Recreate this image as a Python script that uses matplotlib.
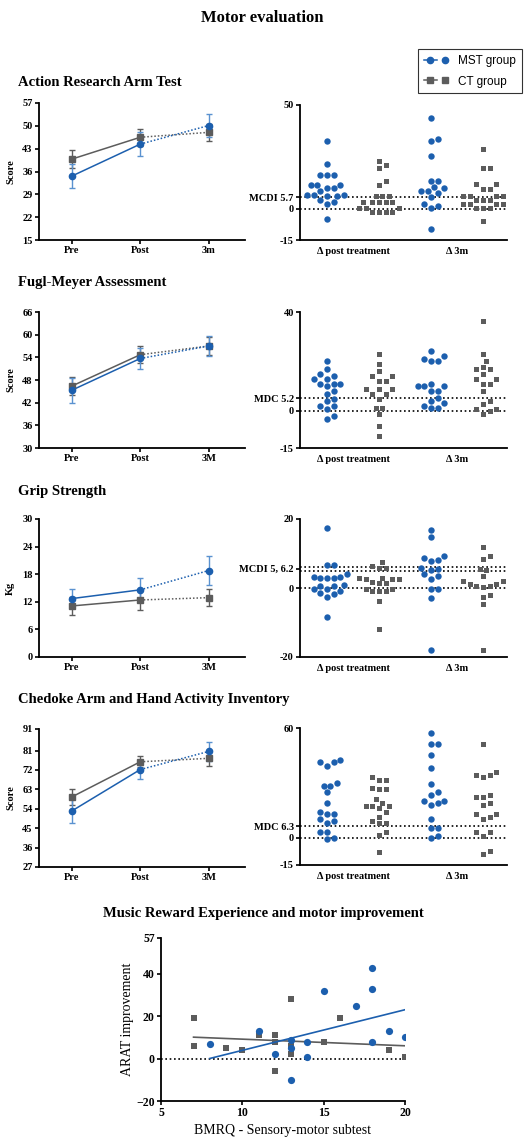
import numpy as np
import matplotlib.pyplot as plt
from matplotlib.lines import Line2D
from matplotlib.legend_handler import HandlerTuple

W, H = 524, 1139
BLUE = '#1c5fae'
BLUE_ERR = '#5a92d0'
GRAY = '#5c5c5c'
DOT = (0, (1, 1.3))

plt.rcParams['font.family'] = ['Liberation Serif', 'DejaVu Serif']
plt.rcParams['axes.linewidth'] = 1.3

# ---- time course (mean, error) ----
times_arat = ['Pre', 'Post', '3m']
times = ['Pre', 'Post', '3M']

arat_mst = [34.6, 44.4, 50.1]
arat_mst_err = [3.6, 3.8, 3.5]
arat_ct = [39.8, 46.5, 48.0]
arat_ct_err = [2.7, 2.6, 2.5]

fm_mst = [45.3, 53.7, 57.0]
fm_mst_err = [3.3, 2.7, 2.7]
fm_ct = [46.4, 54.7, 57.0]
fm_ct_err = [2.4, 2.3, 2.5]

grip_mst = [12.7, 14.6, 18.8]
grip_mst_err = [2.1, 2.6, 3.2]
grip_ct = [11.1, 12.4, 12.9]
grip_ct_err = [2.0, 2.2, 1.9]

cahai_mst = [53.0, 72.2, 80.6]
cahai_mst_err = [5.6, 4.3, 4.4]
cahai_ct = [59.5, 75.8, 77.4]
cahai_ct_err = [3.7, 2.6, 3.6]

# ---- individual change scores ----
change_labels = ['\u0394 post treatment', '\u0394 3m']

arat_post_mst = [32.8, 21.6, 16.3, 16.3, 16.3, 11.5, 10.0, 11.5, 10.0, 11.5, 6.7, 6.7, 6.0, 6.0, 6.7,
                 3.4, 2.4, 4.3, -4.8, 8.5]
arat_post_ct = [23.2, 21.0, 19.9, 13.5, 11.6, 6.2, 6.2, 6.2, 3.4, 3.4, 3.4, 3.4, 3.4,
                0.6, 0.6, 0.6, 0.6, 0.6, -1.4, -1.4, -1.4, -1.4]
arat_3m_mst = [43.9, 32.7, 33.8, 25.6, 13.5, 13.5, 10.6, 9.8, 8.5, 7.8, 8.5, 5.9, 2.4, 1.6, 0.5, -9.6]
arat_3m_ct = [28.8, 19.7, 19.7, 12.0, 12.0, 9.6, 9.6, 6.4, 6.4, 6.4, 6.4, 6.4, 4.3, 4.3, 4.3,
              2.4, 2.4, 2.4, 2.4, 0.6, 0.6, 0.6, -5.8]

fm_post_mst = [20.2, 17.0, 13.0, 14.0, 15.0, 13.0, 11.0, 11.0, 10.1, 11.0, 8.0, 7.0, 4.0, 5.0,
               2.0, 2.0, 0.9, -3.2, -2.0]
fm_post_ct = [23.2, 19.0, 16.1, 14.0, 14.0, 12.1, 12.1, 9.0, 9.0, 9.0, 7.0, 7.0, 5.0, 1.1, 1.1,
              -1.2, -6.0, -10.1]
fm_3m_mst = [24.1, 22.1, 20.1, 20.1, 21.0, 10.1, 10.1, 10.1, 11.0, 8.0, 8.0, 5.1, 4.0, 3.1,
             2.0, 1.1, 1.1]
fm_3m_ct = [36.2, 23.2, 20.1, 17.0, 17.9, 17.0, 15.0, 13.0, 13.0, 11.0, 11.0, 8.0, 4.0, 2.9,
            0.9, 0.0, 0.9, -1.1]

grip_post_mst = [17.4, 6.7, 6.7, 2.8, 3.3, 3.3, 4.0, 2.8, 2.8, 0.9, 0.6, 0.6, -0.4, -0.9, -0.4,
                 -1.8, -2.7, -1.4, -8.4]
grip_post_ct = [7.6, 5.9, 6.4, 5.9, 2.5, 2.5, 3.0, 3.0, 2.5, 1.4, 1.7, 1.4, -0.2, -0.9, -0.9,
                -0.9, -0.2, -3.7, -12.0]
grip_3m_mst = [16.7, 14.8, 8.8, 7.9, 8.2, 9.3, 5.5, 5.2, 5.7, 4.0, 3.5, 2.5, -0.4, -0.4, -2.8, -17.9]
grip_3m_ct = [11.8, 8.5, 9.2, 5.6, 5.2, 3.5, 2.0, 2.0, 2.0, 1.1, 1.1, 0.6, 0.6, 0.2, -2.5,
              -2.1, -4.5, -18.1]

cahai_post_mst = [41.4, 39.2, 41.4, 42.3, 28.3, 30.1, 28.3, 25.0, 19.2, 14.2, 13.0, 13.0, 9.1,
                  7.8, 10.0, 3.1, 3.1, -0.9, 0.0]
cahai_post_ct = [33.2, 31.4, 31.4, 26.5, 26.5, 27.4, 21.4, 19.2, 17.3, 16.1, 14.1, 17.3, 17.3,
                 11.3, 9.1, 7.8, 7.8, 3.1, 1.3, -7.8]
cahai_3m_mst = [57.5, 51.5, 51.5, 45.1, 38.3, 29.2, 25.2, 23.2, 20.3, 19.2, 18.1, 20.3, 10.0,
                5.1, 5.1, 0.0, 0.9]
cahai_3m_ct = [51.5, 36.1, 34.1, 33.4, 34.1, 23.2, 22.1, 22.1, 19.2, 18.1, 13.0, 10.4, 11.5,
               13.0, 2.9, 0.9, 2.9, -9.1, -7.3]

# ---- BMRQ vs ARAT improvement ----
bmrq_mst = [8, 11, 12, 13, 13, 13, 14, 14, 15, 17, 18, 18, 18, 19, 20]
arat_imp_mst = [7, 13, 2, 9, 5, -10, 8, 1, 32, 25, 43, 33, 8, 13, 10]
bmrq_ct = [7, 7, 9, 10, 11, 12, 12, 12, 13, 13, 13, 15, 16, 19, 20]
arat_imp_ct = [19, 6, 5, 4, 11, 11, 8, -6, 28, 2, 6, 8, 19, 4, 1]


fig = plt.figure(figsize=(W / 100, H / 100), dpi=100)


def px_axes(x0, y0, x1, y1):
    return fig.add_axes([x0 / W, 1 - y1 / H, (x1 - x0) / W, (y1 - y0) / H])


def style(ax, size=7.5):
    for s in ['top', 'right']:
        ax.spines[s].set_visible(False)
    ax.tick_params(direction='out', length=3, width=1.2, pad=1.5, labelsize=size)
    for lab in ax.get_xticklabels() + ax.get_yticklabels():
        lab.set_fontweight('bold')


def time_panel(top, bottom, labels, mst, mst_err, ct, ct_err, ylim, yticks, ylabel):
    ax = px_axes(39, top, 245, bottom)
    x = np.arange(3)
    for vals, errs, col, ecol, mk, ms in [(ct, ct_err, GRAY, GRAY, 's', 4.2),
                                          (mst, mst_err, BLUE, BLUE_ERR, 'o', 4.5)]:
        ax.plot(x[:2], vals[:2], '-', color=col, lw=1.1)
        ax.plot(x[1:], vals[1:], linestyle=DOT, color=col, lw=1.1)
        ax.errorbar(x, vals, yerr=errs, fmt=mk, color=col, ecolor=ecol, ms=ms,
                    capsize=2, elinewidth=1, capthick=1)
    ax.set_xlim(-0.48, 2.53)
    ax.set_ylim(*ylim)
    ax.set_xticks(x)
    ax.set_xticklabels(labels)
    ax.set_yticks(yticks)
    ax.set_ylabel(ylabel, fontsize=7.5, fontweight='bold')
    ax.yaxis.set_label_coords(-0.115, 0.5)
    style(ax)
    return ax


def swarm(vals, px_per_unit, d=6.6):
    vals = np.asarray(vals, dtype=float)
    offs = np.zeros(len(vals))
    placed = []
    step = d * 0.5
    for i in np.argsort(vals):
        y = vals[i] * px_per_unit
        for k in [0, 1, -1, 2, -2, 3, -3, 4, -4, 5, -5, 6, -6]:
            xo = k * step
            if all((xo - px) ** 2 + (y - py) ** 2 >= (d * 0.95) ** 2 for px, py in placed):
                break
        placed.append((xo, y))
        offs[i] = xo
    return offs


def change_panel(top, bottom, cols, ylim, mcd_lines, mcd_tick, mcd_label):
    ax = px_axes(300, top, 507, bottom)
    ppu = (bottom - top) / (ylim[1] - ylim[0])
    xppu = 52.0
    for pos, vals in enumerate(cols):
        blue = pos % 2 == 0
        offs = swarm(vals, ppu) / xppu
        ax.plot(pos + offs, vals, 'o' if blue else 's', color=BLUE if blue else GRAY,
                ms=4.6 if blue else 3.6, mew=0, ls='none')
    for v in [0] + list(mcd_lines):
        ax.axhline(v, linestyle=(0, (1, 1.6)), color='k', lw=1.2, zorder=0)
    ax.set_xlim(-0.52, 3.46)
    ax.set_ylim(*ylim)
    ax.set_xticks([0.5, 2.5])
    ax.set_xticklabels(change_labels)
    ax.set_yticks([ylim[0], 0, mcd_tick, ylim[1]])
    ax.set_yticklabels([f'{ylim[0]:g}', '0', mcd_label, f'{ylim[1]:g}'])
    style(ax)
    ax.tick_params(axis='x', length=0, pad=5)
    return ax


def panel_title(y, text):
    fig.text(18 / W, 1 - y / H, text, fontsize=10.5, fontweight='bold', va='center')


fig.text(262 / W, 1 - 18 / H, 'Motor evaluation', fontsize=12, fontweight='bold',
         ha='center', va='center')

# ARAT
panel_title(83, 'Action Research Arm Test')
time_panel(103, 240, times_arat, arat_mst, arat_mst_err, arat_ct, arat_ct_err,
           (15, 57), [15, 22, 29, 36, 43, 50, 57], 'Score')
change_panel(105, 240, [arat_post_mst, arat_post_ct, arat_3m_mst, arat_3m_ct],
             (-15, 50), [5.7], 5.7, 'MCDI 5.7')

# Fugl-Meyer
panel_title(282, 'Fugl-Meyer Assessment')
time_panel(312, 448, times, fm_mst, fm_mst_err, fm_ct, fm_ct_err,
           (30, 66), [30, 36, 42, 48, 54, 60, 66], 'Score')
change_panel(312, 448, [fm_post_mst, fm_post_ct, fm_3m_mst, fm_3m_ct],
             (-15, 40), [5.2], 5.2, 'MDC 5.2')

# Grip strength
panel_title(492, 'Grip Strength')
time_panel(519, 657, times, grip_mst, grip_mst_err, grip_ct, grip_ct_err,
           (0, 30), [0, 6, 12, 18, 24, 30], 'Kg')
change_panel(519, 657, [grip_post_mst, grip_post_ct, grip_3m_mst, grip_3m_ct],
             (-20, 20), [5, 6.2], 5.6, 'MCDI 5, 6.2')

# CAHAI
panel_title(699, 'Chedoke Arm and Hand Activity Inventory')
time_panel(729, 867, times, cahai_mst, cahai_mst_err, cahai_ct, cahai_ct_err,
           (27, 91), [27, 36, 45, 54, 63, 72, 81, 91], 'Score')
change_panel(728, 865, [cahai_post_mst, cahai_post_ct, cahai_3m_mst, cahai_3m_ct],
             (-15, 60), [6.3], 6.3, 'MDC 6.3')

# legend
h_mst = (Line2D([], [], color=BLUE, marker='o', ms=4.5, lw=1.1),
         Line2D([], [], color=BLUE, marker='o', ms=4.5, ls='none'))
h_ct = (Line2D([], [], color=GRAY, marker='s', ms=3.8, lw=1.1),
        Line2D([], [], color=GRAY, marker='s', ms=3.8, ls='none'))
leg = fig.legend([h_mst, h_ct], ['MST group', 'CT group'],
                 handler_map={tuple: HandlerTuple(ndivide=None, pad=0.1)},
                 loc='upper right', bbox_to_anchor=(524 / W, 1 - 47 / H),
                 prop={'family': 'Liberation Sans', 'size': 8.5}, frameon=True,
                 fancybox=False, edgecolor='k', handlelength=2.4, borderpad=0.5,
                 labelspacing=0.7, handletextpad=0.5, borderaxespad=0.2)
leg.get_frame().set_linewidth(0.8)

# Music reward scatter
fig.text(263 / W, 1 - 913 / H, 'Music Reward Experience and motor improvement',
         fontsize=10.5, fontweight='bold', ha='center', va='center')
bx = px_axes(161, 938, 405, 1101)
bx.axhline(0, linestyle=(0, (1, 1.6)), color='k', lw=1.2, zorder=0)
for xs, ys, col, mk, ms in [(bmrq_ct, arat_imp_ct, GRAY, 's', 4.0),
                            (bmrq_mst, arat_imp_mst, BLUE, 'o', 5.2)]:
    bx.plot(xs, ys, mk, color=col, ms=ms, mew=0, ls='none')
    slope, icpt = np.polyfit(xs, ys, 1)
    xr = np.array([min(xs), max(xs)])
    bx.plot(xr, slope * xr + icpt, '-', color=col, lw=1.2)
bx.set_xlim(5, 20)
bx.set_ylim(-20, 57)
bx.set_xticks([5, 10, 15, 20])
bx.set_yticks([-20, 0, 20, 40, 57])
bx.set_xlabel('BMRQ - Sensory-motor subtest', fontsize=10)
bx.set_ylabel('ARAT improvement', fontsize=10)
bx.xaxis.set_label_coords(0.5, -0.14)
bx.yaxis.set_label_coords(-0.11, 0.5)
style(bx, size=8.5)

fig.savefig('out.png', dpi=100)
